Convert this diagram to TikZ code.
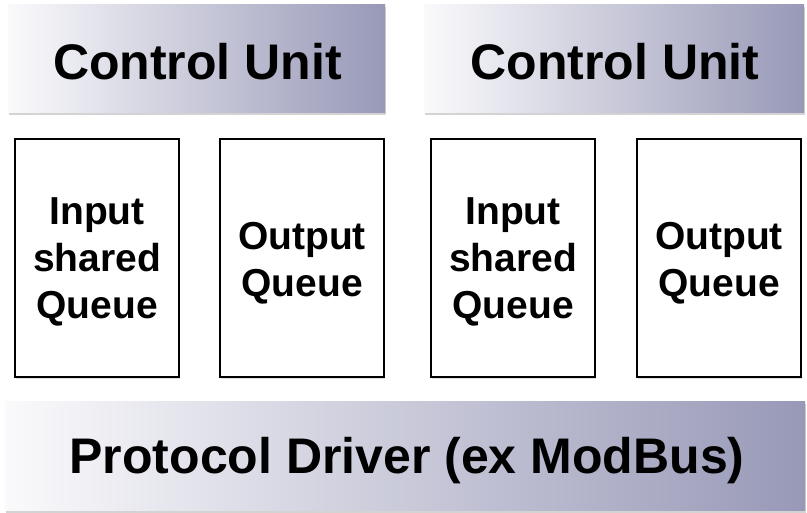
\documentclass[tikz,border=0pt]{standalone}
\usepackage{fontspec}
\setmainfont{Liberation Sans}
\usetikzlibrary{shadows}
\definecolor{gradL}{RGB}{250,250,252}
\definecolor{gradR}{RGB}{152,153,183}
\tikzset{
  unitbox/.style={rectangle, inner sep=0pt, left color=gradL, right color=gradR,
    drop shadow={opacity=0.35, shadow xshift=1pt, shadow yshift=-2.5pt}},
  unittext/.style={inner sep=0pt, font=\fontsize{50}{60}\selectfont\bfseries},
  queuebox/.style={rectangle, inner sep=0pt, draw=black, line width=2pt, fill=white,
    minimum width=164pt, minimum height=238pt,
    drop shadow={opacity=0.25, shadow xshift=1pt, shadow yshift=-2pt}},
  queuetext/.style={inner sep=0pt, align=center, font=\fontsize{39}{47}\selectfont\bfseries},
}
\begin{document}
\begin{tikzpicture}[x=1pt,y=-1pt]
\useasboundingbox (0,0) rectangle (807,513);
\node[unitbox, minimum width=377pt, minimum height=108pt] (cu1) at (196.5,59) {};
\node[unitbox, minimum width=380pt, minimum height=108pt] (cu2) at (614,59) {};
\node[unitbox, minimum width=800pt, minimum height=108pt] (pd) at (405,456) {};
\node[unittext] (cu1t) at ([xshift=1pt, yshift=-2.5pt]cu1.center) {Control Unit};
\node[unittext] (cu2t) at ([xshift=1pt, yshift=-2.5pt]cu2.center) {Control Unit};
\node[unittext] (pdt) at ([xshift=2pt, yshift=-5pt]pd.center) {Protocol Driver (ex ModBus)};
\node[queuebox] (iq1) at (97,258) {};
\node[queuebox] (oq1) at (302,258) {};
\node[queuebox] (iq2) at (513,258) {};
\node[queuebox] (oq2) at (719,258) {};
\node[queuetext] (iq1t) at ([yshift=-4pt]iq1.center) {Input\\shared\\Queue};
\node[queuetext] (oq1t) at ([yshift=-5pt]oq1.center) {Output\\Queue};
\node[queuetext] (iq2t) at ([yshift=-4pt]iq2.center) {Input\\shared\\Queue};
\node[queuetext] (oq2t) at ([yshift=-5pt]oq2.center) {Output\\Queue};
\end{tikzpicture}
\end{document}
